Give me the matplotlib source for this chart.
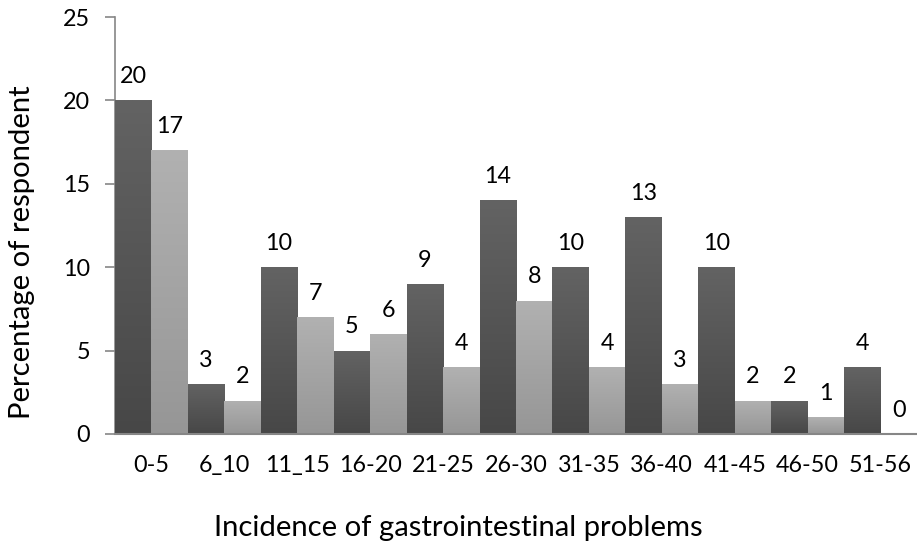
import matplotlib
matplotlib.use("Agg")
import matplotlib.pyplot as plt
import numpy as np

categories = ["0-5", "6_10", "11_15", "16-20", "21-25", "26-30", "31-35",
              "36-40", "41-45", "46-50", "51-56"]
# Bars alternate dark / light across the axis, two per category
values = [20, 17, 3, 2, 10, 7, 5, 6, 9, 4, 14, 8, 10, 4, 13, 3, 10, 2, 2, 1, 4, 0]
yticks = [0, 5, 10, 15, 20, 25]
xlabel = "Incidence of gastrointestinal problems"
ylabel = "Percentage of respondent"

plt.rcParams['font.family'] = ['Lato', 'DejaVu Sans']

fig = plt.figure(figsize=(9.17, 5.44), dpi=100)
ax = fig.add_axes([115/917, 1-434/544, 1-115/917, (434-17)/544])
renderer = fig.canvas.get_renderer()


def fit_size(text, target_px, base=16.0, rotation=0):
    t = fig.text(0, 0, text, fontsize=base, rotation=rotation)
    bb = t.get_window_extent(renderer=renderer)
    size = bb.height if rotation == 90 else bb.width
    t.remove()
    return base * target_px / size


tick_fs = fit_size("11_15", 65)
title_fs = fit_size(xlabel, 491)

n = len(values)
x = np.arange(n)
dark_grad = [(0x63/255,)*3, (0x47/255,)*3]
light_grad = [(0xb1/255,)*3, (0x96/255,)*3]
bars = ax.bar(x, values, width=1.0, align='edge', color='#595959', linewidth=0, zorder=2)

for i, b in enumerate(bars):
    top_c, bot_c = dark_grad if i % 2 == 0 else light_grad
    h = b.get_height()
    if h <= 0:
        continue
    grad = np.linspace(0, 1, 256)
    img = np.zeros((256, 1, 3))
    for k in range(3):
        img[:, 0, k] = top_c[k] + (bot_c[k] - top_c[k]) * grad
    im = ax.imshow(img, extent=[b.get_x(), b.get_x() + b.get_width(), 0, h],
                   aspect='auto', zorder=3, interpolation='bilinear')
    im.set_clip_path(b)

for i, v in enumerate(values):
    ax.text(i + 0.5, v + 0.8, str(v), ha='center', va='bottom', fontsize=tick_fs, color='black')

ax.set_xlim(0, n)
ax.set_ylim(0, 25)
ax.set_yticks(yticks)
ax.set_yticklabels([str(t) for t in yticks], fontsize=tick_fs)
ax.set_xticks(np.arange(len(categories)) * 2 + 1)
ax.set_xticklabels(categories, fontsize=tick_fs)
ax.tick_params(axis='x', length=0, pad=15)
ax.tick_params(axis='y', length=7, width=1.2, color='#868686', pad=11)

for s in ['top', 'right']:
    ax.spines[s].set_visible(False)
ax.spines['left'].set_color('#868686')
ax.spines['bottom'].set_color('#868686')
ax.spines['left'].set_linewidth(1.2)
ax.spines['bottom'].set_linewidth(1.5)
ax.spines['bottom'].set_zorder(5)

fig.text(458/917, 1-528/544, xlabel, ha='center', va='center', fontsize=title_fs)
fig.text(22/917, 1-252/544, ylabel, ha='center', va='center', rotation=90, fontsize=title_fs)

fig.savefig("out.png", dpi=100)
